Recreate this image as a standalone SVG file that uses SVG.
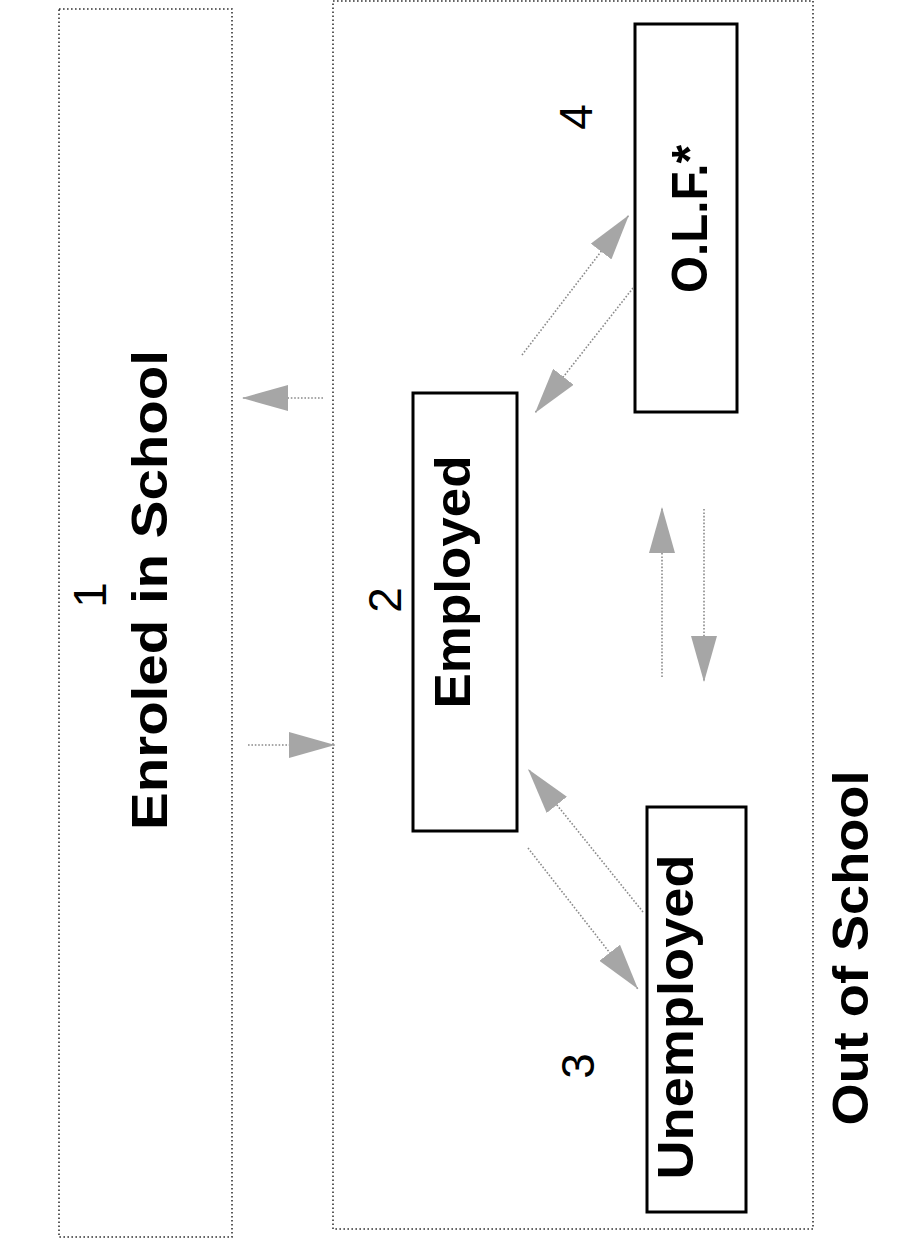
<svg xmlns="http://www.w3.org/2000/svg" width="902" height="1244" viewBox="0 0 902 1244">
<style>
.region{fill:none;stroke:#333;stroke-width:1.6;stroke-dasharray:1.6 2.4}
.box{fill:#fff;stroke:#000;stroke-width:3}
.lbl{font-family:"Liberation Sans",Arial,sans-serif;font-weight:bold;font-size:50px;fill:#000;text-anchor:middle}
.num{font-family:"Liberation Sans",Arial,sans-serif;font-size:46px;fill:#000;text-anchor:middle}
.conn{fill:none;stroke:#8a8a8a;stroke-width:1.6;stroke-dasharray:1.6 1.8}
</style>
<defs>
<marker id="ah" viewBox="0 0 46 26" markerWidth="46" markerHeight="26" refX="46" refY="13" markerUnits="userSpaceOnUse" orient="auto">
<path d="M0,0 L46,13 L0,26 Z" fill="#a6a6a6"/>
</marker>
</defs>
<rect width="902" height="1244" fill="#fff"/>
<g id="enrolled">
<rect class="region" x="59" y="9" width="173" height="1228"/>
<text class="lbl" transform="translate(167,590) rotate(-90)" textLength="480" lengthAdjust="spacingAndGlyphs">Enroled in School</text>
<text class="num" transform="translate(106,595) rotate(-90)">1</text>
</g>
<g id="out-of-school">
<rect class="region" x="333" y="1" width="480" height="1228"/>
<text class="lbl" transform="translate(868,948) rotate(-90)" textLength="355" lengthAdjust="spacingAndGlyphs">Out of School</text>
</g>
<g id="employed">
<rect class="box" x="413" y="393" width="104" height="438"/>
<text class="lbl" transform="translate(470,582) rotate(-90)" textLength="253" lengthAdjust="spacingAndGlyphs">Employed</text>
<text class="num" transform="translate(401,600) rotate(-90)">2</text>
</g>
<g id="unemployed">
<rect class="box" x="647" y="807" width="99" height="405"/>
<text class="lbl" transform="translate(693,1017) rotate(-90)" textLength="325" lengthAdjust="spacingAndGlyphs">Unemployed</text>
<text class="num" transform="translate(594,1066) rotate(-90)">3</text>
</g>
<g id="olf">
<rect class="box" x="635" y="24" width="102" height="388"/>
<text class="lbl" transform="translate(707,219) rotate(-90)" textLength="148" lengthAdjust="spacingAndGlyphs">O.L.F.*</text>
<text class="num" transform="translate(592,117) rotate(-90)">4</text>
</g>
<g id="connectors">
<line class="conn" x1="323" y1="398" x2="242" y2="398" marker-end="url(#ah)"/>
<line class="conn" x1="248" y1="745" x2="335" y2="745" marker-end="url(#ah)"/>
<line class="conn" x1="522" y1="355" x2="629" y2="215" marker-end="url(#ah)"/>
<line class="conn" x1="633" y1="288" x2="535" y2="413" marker-end="url(#ah)"/>
<line class="conn" x1="643" y1="912" x2="528" y2="769" marker-end="url(#ah)"/>
<line class="conn" x1="528" y1="848" x2="638" y2="989" marker-end="url(#ah)"/>
<line class="conn" x1="662" y1="677" x2="662" y2="507" marker-end="url(#ah)"/>
<line class="conn" x1="704" y1="509" x2="704" y2="682" marker-end="url(#ah)"/>
</g>
</svg>
